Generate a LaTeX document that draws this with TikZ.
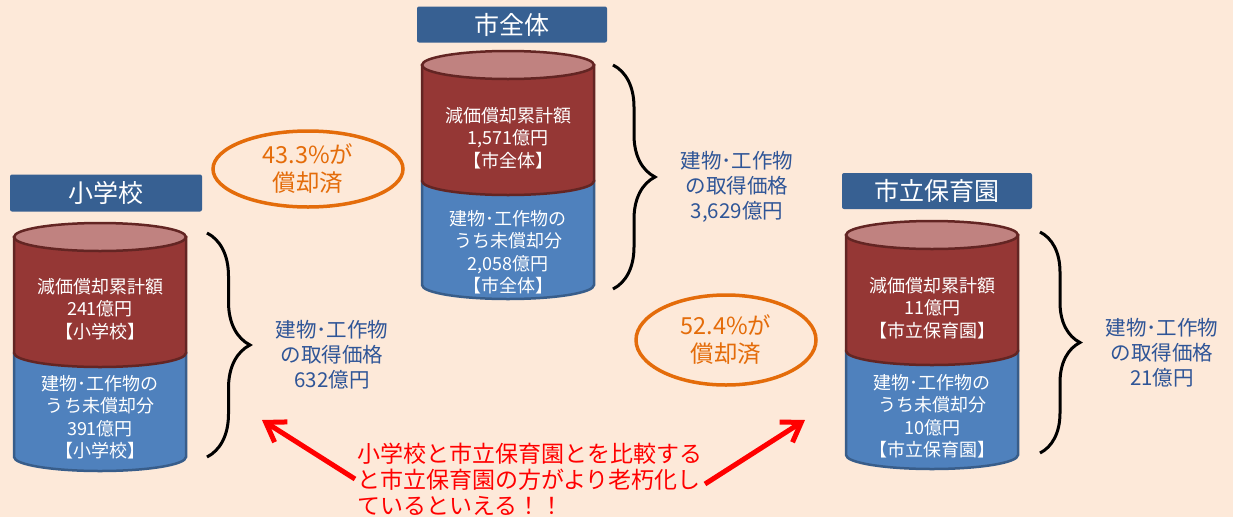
\documentclass[tikz,border=0pt]{standalone}
\usepackage{fontspec}
\newfontfamily\jp{Noto Sans CJK JP}
\usetikzlibrary{decorations.pathreplacing,arrows.meta,shapes.geometric}
\definecolor{bgc}{HTML}{FDE9D9}
\definecolor{titleblue}{HTML}{376092}
\definecolor{cred}{HTML}{953735}
\definecolor{credline}{HTML}{632523}
\definecolor{ctop}{HTML}{C08280}
\definecolor{cblue}{HTML}{4F81BD}
\definecolor{cblueline}{HTML}{385D8A}
\definecolor{corange}{HTML}{E46C0A}
\definecolor{tblue}{HTML}{2F5597}
\newcommand{\mycyl}[2]{%
  \path[fill=cblue, draw=cblueline, line width=2.5pt] (#1-86,#2+116) -- (#1-86,#2+220)
    arc[start angle=180,end angle=360,x radius=86pt,y radius=14pt] -- (#1+86,#2+116) -- cycle;
  \path[fill=cred, draw=credline, line width=2.5pt] (#1-86,#2) -- (#1-86,#2+116)
    arc[start angle=180,end angle=360,x radius=86pt,y radius=14pt] -- (#1+86,#2) -- cycle;
  \path[fill=ctop, draw=credline, line width=2.5pt] (#1,#2) ellipse[x radius=86pt,y radius=14pt];
}
\tikzset{
  titlebox/.style={fill=titleblue, rounded corners=2pt, text=white, minimum width=190pt, minimum height=36pt, inner sep=0pt, font=\jp\fontsize{25}{28}\selectfont},
  cyltext/.style={text=white, align=center, inner sep=0pt, font=\jp\fontsize{18}{22.5}\selectfont},
  bracetext/.style={text=tblue, align=center, inner sep=0pt, font=\jp\fontsize{20.5}{25}\selectfont},
  bracestyle/.style={decorate, decoration={brace, amplitude=#1}, line width=3pt, black},
  rateoval/.style={ellipse, draw=corange, line width=3.5pt, text=corange, align=center, inner sep=0pt, font=\jp\fontsize{23.5}{28}\selectfont},
  notetext/.style={text=red, align=left, inner sep=0pt, font=\jp\fontsize{23}{26}\selectfont},
  redarrow/.style={draw=red, line width=5pt, -{Straight Barb[length=18pt,width=24pt]}}
}
\begin{document}
\begin{tikzpicture}[x=1pt,y=-1pt]
\useasboundingbox (0,0) rectangle (1233,517);
\fill[bgc] (0,0) rectangle (1233,517);

% titles
\node[titlebox] (t1) at (512,24.5) {市全体};
\node[titlebox, minimum width=192pt, minimum height=37pt] (t2) at (106,193) {小学校};
\node[titlebox] (t3) at (937,191) {市立保育園};

% cylinders
\mycyl{508}{65}
\mycyl{100}{237}
\mycyl{932}{235}

% cylinder texts
\node[cyltext] (r1) at (508,138) {減価償却累計額\\1,571億円\\【市全体】};
\node[cyltext] (b1) at (508,252) {建物･工作物の\\うち未償却分\\2,058億円\\【市全体】};
\node[cyltext] (r2) at (100,309) {減価償却累計額\\241億円\\【小学校】};
\node[cyltext] (b2) at (100,417) {建物･工作物の\\うち未償却分\\391億円\\【小学校】};
\node[cyltext] (r3) at (932,308) {減価償却累計額\\11億円\\【市立保育園】};
\node[cyltext] (b3) at (932,416) {建物･工作物の\\うち未償却分\\10億円\\【市立保育園】};

% braces
\draw[bracestyle=42pt] (613,65) -- (613,289);
\draw[bracestyle=43pt] (207,233) -- (207,457);
\draw[bracestyle=40pt] (1040,232) -- (1040,453);

\node[bracetext] (s1) at (737,187) {建物･工作物\\の取得価格\\3,629億円};
\node[bracetext] (s2) at (332,355) {建物･工作物\\の取得価格\\632億円};
\node[bracetext] (s3) at (1162,353) {建物･工作物\\の取得価格\\21億円};

% ovals
\node[rateoval, minimum width=190pt, minimum height=76pt] (o1) at (308,169) {43.3\%が\\償却済};
\node[rateoval, minimum width=180pt, minimum height=90pt] (o2) at (726,340) {52.4\%が\\償却済};

% note and arrows
\node[notetext, anchor=west] (note) at (357,479) {小学校と市立保育園とを比較する\\と市立保育園の方がより老朽化し\\ているといえる！！};
\coordinate (la) at (355,479);
\coordinate (lt) at (262,420);
\coordinate (ra) at (705,484);
\coordinate (rt) at (805,420);
\draw[redarrow] (la) -- (lt);
\draw[redarrow] (ra) -- (rt);
\end{tikzpicture}
\end{document}
